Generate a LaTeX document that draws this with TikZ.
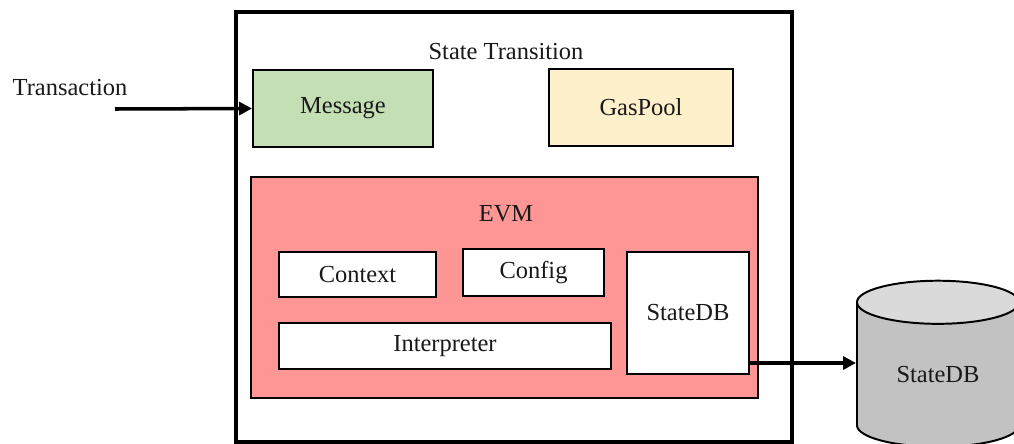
\documentclass[tikz,border=0pt]{standalone}
\usepackage{fontspec}
\setmainfont{Liberation Serif}
\usepackage{tikz}
\usetikzlibrary{positioning, arrows.meta, calc, shapes.geometric}
\definecolor{msg-green}{HTML}{C5DFB4}
\definecolor{gas-yellow}{HTML}{FFF0CC}
\definecolor{evm-red}{HTML}{FF9696}
\definecolor{db-gray}{HTML}{C2C2C2}
\definecolor{db-top}{HTML}{DADADA}

\begin{document}
\begin{tikzpicture}[
    x=0.025cm, y=-0.025cm,
    every node/.style={font=\fontsize{17.4}{20}\selectfont, text=black!90},
    box/.style={draw, line width=1.4pt, inner sep=0pt, fill=white},
    label/.style={inner sep=0pt},
    arr/.style={-{Triangle[length=0.32cm, width=0.32cm]}, line width=2.5pt},
]
    \useasboundingbox (0, 0) rectangle (1014, 443);

    % State transition frame
    \node[draw, line width=2.6pt, inner sep=0pt, minimum width=13.9cm,
          minimum height=10.75cm] (trans) at (514, 227) {};
    \node[label] (transtitle) at (506, 52) {State Transition};

    % Message and gas pool
    \node[box, fill=msg-green, minimum width=4.5cm, minimum height=1.925cm]
        (msg) at (343, 108.5) {Message};
    \node[box, fill=gas-yellow, minimum width=4.6cm, minimum height=1.925cm]
        (gas) at (641, 107.5) {GasPool};

    % EVM
    \node[box, fill=evm-red, minimum width=12.675cm, minimum height=5.5cm]
        (evm) at (504.5, 287.5) {};
    \node[label] (evmtitle) at (506, 214) {EVM};
    \node[box, minimum width=3.925cm, minimum height=1.125cm]
        (ctx) at (357.5, 274.5) {Context};
    \node[box, minimum width=3.525cm, minimum height=1.175cm]
        (cfg) at (533.5, 272.5) {Config};
    \node[box, minimum width=8.3cm, minimum height=1.15cm]
        (interp) at (445, 346) {Interpreter};
    \node[box, minimum width=3.05cm, minimum height=3.05cm]
        (sdbin) at (688, 313) {StateDB};

    % Database
    \node[cylinder, shape border rotate=90, aspect=0.52, draw, line width=1.4pt,
          cylinder uses custom fill, cylinder body fill=db-gray,
          cylinder end fill=db-top, minimum width=4.05cm, minimum height=4.15cm,
          inner sep=0pt] (db) at (938, 375) {StateDB};
    \coordinate (dbin) at ($(db.west)+(0,-12)$);

    % Input
    \node[label] (txlabel) at (70, 88) {Transaction};
    \coordinate (txin) at (115, 109);
    \draw[arr] (txin) -- (msg.west);
    \draw[arr] (sdbin.east |- dbin) -- (dbin);
\end{tikzpicture}
\end{document}
